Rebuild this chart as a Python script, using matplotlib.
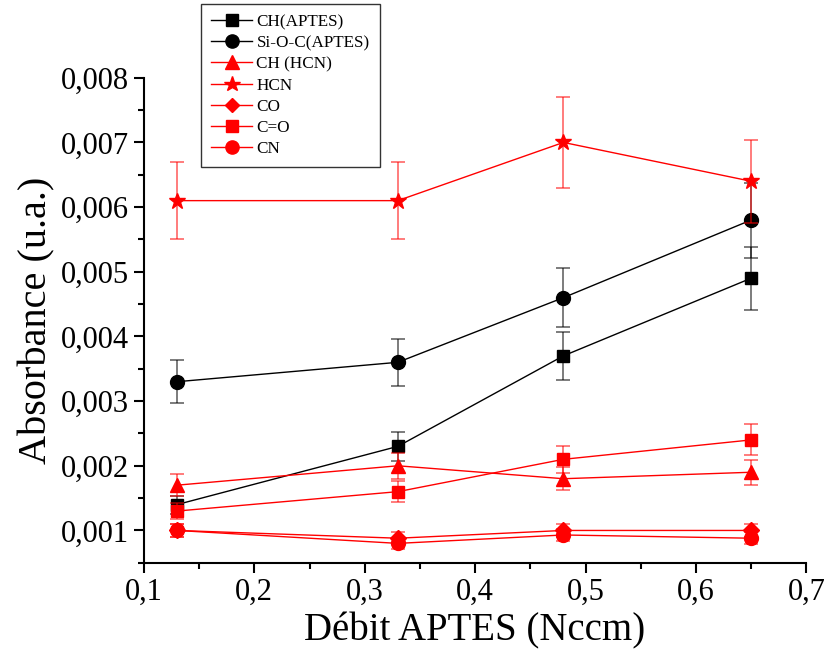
import matplotlib as mpl
mpl.rcParams['font.family'] = ['Liberation Serif', 'DejaVu Serif']
from matplotlib import pyplot as plt
from matplotlib.ticker import MultipleLocator, FuncFormatter

# données
debit = [0.13, 0.33, 0.48, 0.65]

ch_aptes = [0.0014, 0.0023, 0.0037, 0.0049]
ch_aptes_err = [0.00014, 0.00023, 0.00037, 0.00049]
sioc_aptes = [0.0033, 0.0036, 0.0046, 0.0058]
sioc_aptes_err = [0.00033, 0.00036, 0.00046, 0.00058]
ch_hcn = [0.0017, 0.0020, 0.0018, 0.0019]
ch_hcn_err = [0.00017, 0.00020, 0.00018, 0.00019]
hcn = [0.0061, 0.0061, 0.0070, 0.0064]
hcn_err = [0.0006, 0.0006, 0.0007, 0.00064]
co = [0.0010, 0.00088, 0.0010, 0.0010]
co_err = [0.0001, 0.00009, 0.0001, 0.0001]
c_o = [0.0013, 0.0016, 0.0021, 0.0024]
c_o_err = [0.00013, 0.00016, 0.00021, 0.00024]
cn = [0.0010, 0.00080, 0.00093, 0.00088]
cn_err = [0.0001, 0.00008, 0.00009, 0.00009]

series = [
    ("CH(APTES)", ch_aptes, ch_aptes_err, "black", "s", 9),
    ("Si-O-C(APTES)", sioc_aptes, sioc_aptes_err, "black", "o", 10),
    ("CH (HCN)", ch_hcn, ch_hcn_err, "red", "^", 10),
    ("HCN", hcn, hcn_err, "red", "*", 12),
    ("CO", co, co_err, "red", "D", 8),
    ("C=O", c_o, c_o_err, "red", "s", 9),
    ("CN", cn, cn_err, "red", "o", 10),
]

fig = plt.figure(figsize=(8.27, 6.59), dpi=100)
ax = fig.add_axes([0.174, 0.146, 0.801, 0.736])

handles = []
for nom, y, err, col, mk, ms in series:
    ax.errorbar(debit, y, yerr=err, fmt="none", ecolor=col, elinewidth=1.2,
                capsize=5, capthick=1.2, alpha=0.6)
    h, = ax.plot(debit, y, color=col, marker=mk, markersize=ms, lw=1,
                 label=nom)
    handles.append(h)

ax.set_xlim(0.1, 0.7)
ax.set_ylim(0.0005, 0.008)
ax.xaxis.set_major_locator(MultipleLocator(0.1))
ax.xaxis.set_minor_locator(MultipleLocator(0.05))
ax.yaxis.set_major_locator(MultipleLocator(0.001))
ax.yaxis.set_minor_locator(MultipleLocator(0.0005))
ax.xaxis.set_major_formatter(FuncFormatter(lambda v, p: ("%.1f" % v).replace(".", ",")))
ax.yaxis.set_major_formatter(FuncFormatter(lambda v, p: ("%.3f" % v).replace(".", ",")))

ax.spines["top"].set_visible(False)
ax.spines["right"].set_visible(False)
ax.spines["left"].set_linewidth(1.5)
ax.spines["bottom"].set_linewidth(1.5)
ax.tick_params(which="major", direction="out", length=7, width=1.5, labelsize=22)
ax.tick_params(which="minor", direction="out", length=4, width=1.5)

ax.set_xlabel("Débit APTES (Nccm)", fontsize=28)
ax.set_ylabel("Absorbance (u.a.)", fontsize=29)

leg = fig.legend(handles=handles, loc="upper left", bbox_to_anchor=(0.243, 0.994),
                 fontsize=12.3, frameon=True, fancybox=False, edgecolor="black",
                 handlelength=2.4, labelspacing=0.3, borderpad=0.6,
                 handletextpad=0.25, borderaxespad=0, markerscale=0.95)
leg.get_frame().set_linewidth(1)

plt.savefig("out.png", dpi=100)
